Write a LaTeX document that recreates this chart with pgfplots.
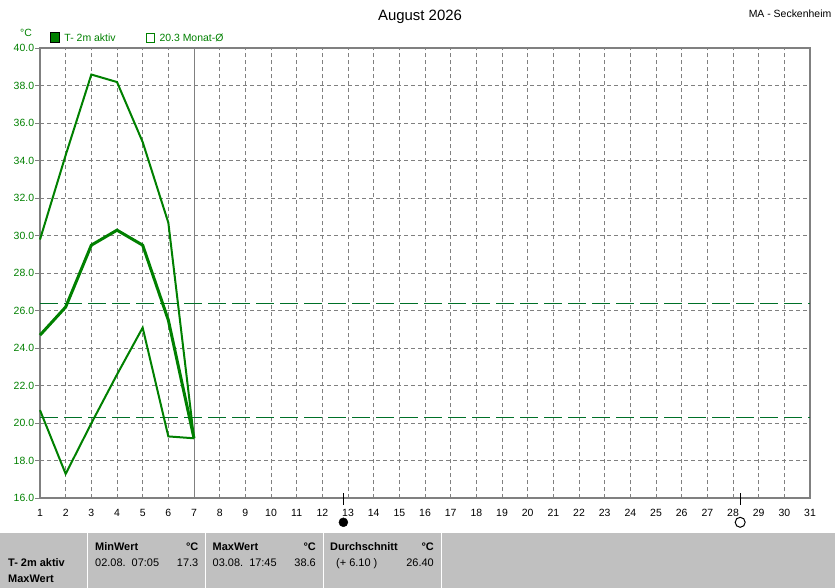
\documentclass[border=0pt]{standalone}
\usepackage{pgfplots}
\pgfplotsset{compat=1.18}
\usepackage{fontspec}
\setmainfont{Liberation Sans}
\definecolor{tgreen}{RGB}{0,128,0}
\definecolor{dgreen}{RGB}{0,112,40}
\definecolor{axgray}{RGB}{128,128,128}
\definecolor{gridgray}{RGB}{128,128,128}
\definecolor{panelgray}{RGB}{192,192,192}
\newcommand{\sm}{\fontsize{10.5}{12}\selectfont}
\newcommand{\pn}{\fontsize{11}{13}\selectfont}
\begin{document}
\begin{tikzpicture}[x=1bp,y=1bp]
\path[use as bounding box] (0,0) rectangle (835,588);
% bottom panel
\fill[panelgray] (0,0) rectangle (835,55);
\foreach \xx in {87.5,205.5,323.5,441} {\draw[white, line width=1bp] (\xx,0) -- (\xx,55);}
\node[anchor=base west, inner sep=0pt, font=\pn\bfseries] at (8,21) {T- 2m aktiv};
\node[anchor=base west, inner sep=0pt, font=\pn\bfseries] at (8,5) {MaxWert};
\node[anchor=base west, inner sep=0pt, font=\pn\bfseries] at (95,37) {MinWert};
\node[anchor=base east, inner sep=0pt, font=\pn\bfseries] at (198.5,37) {°C};
\node[anchor=base west, inner sep=0pt, font=\pn] at (95,21) {02.08.\ \ 07:05};
\node[anchor=base east, inner sep=0pt, font=\pn] at (198.5,21) {17.3};
\node[anchor=base west, inner sep=0pt, font=\pn\bfseries] at (212.5,37) {MaxWert};
\node[anchor=base east, inner sep=0pt, font=\pn\bfseries] at (316,37) {°C};
\node[anchor=base west, inner sep=0pt, font=\pn] at (212.5,21) {03.08.\ \ 17:45};
\node[anchor=base east, inner sep=0pt, font=\pn] at (316,21) {38.6};
\node[anchor=base west, inner sep=0pt, font=\pn\bfseries] at (330,37) {Durchschnitt};
\node[anchor=base east, inner sep=0pt, font=\pn\bfseries] at (434,37) {°C};
\node[anchor=base west, inner sep=0pt, font=\pn] at (336,21) {(+ 6.10 )};
\node[anchor=base east, inner sep=0pt, font=\pn] at (434,21) {26.40};
% titles
\node[anchor=base, inner sep=0pt, font=\fontsize{15}{18}\selectfont] at (420,567.5) {August 2026};
\node[anchor=base east, inner sep=0pt, font=\sm] at (831.5,570.7) {MA - Seckenheim};
\node[anchor=base west, inner sep=0pt, font=\sm, text=tgreen] at (20,551.3) {°C};
% legend
\filldraw[fill=tgreen, draw=black, line width=1bp] (50.5,545.5) rectangle (59.5,555.5);
\node[anchor=base west, inner sep=0pt, font=\sm, text=tgreen] at (64.3,546.5) {T- 2m aktiv};
\draw[tgreen, line width=1bp] (146,545.5) rectangle (154.5,554.5);
\node[anchor=base west, inner sep=0pt, font=\sm, text=tgreen] at (159.3,546.5) {20.3 Monat-Ø};
\begin{axis}[
  at={(40bp,89.7bp)}, anchor=south west,
  scale only axis, width=770bp, height=450bp,
  xmin=1, xmax=31, ymin=16, ymax=40,
  xtick={1,...,31}, ytick={16,18,...,40},
  grid=major,
  major grid style={color=gridgray, line width=1bp, dash pattern=on 4bp off 3bp},
  axis line style={color=axgray, line width=2bp},
  tick align=outside, major tick length=5bp, tick pos=left,
  tick style={color=axgray, line width=1bp},
  x tick style={draw=none},
  tick label style={font=\sm},
  xticklabel style={anchor=base, yshift=-13.2bp},
  yticklabel style={anchor=east, inner xsep=0.7bp, text=tgreen,
    /pgf/number format/fixed, /pgf/number format/fixed zerofill, /pgf/number format/precision=1},
  /pgf/number format/assume math mode=true,
  clip=false,
]
\addplot[axgray, line width=1bp] coordinates {(7,16) (7,40)};
\addplot[dgreen, line width=1.2bp, dash pattern=on 18bp off 6bp] coordinates {(1,26.4) (31,26.4)};
\addplot[dgreen, line width=1.2bp, dash pattern=on 18bp off 6bp] coordinates {(1,20.3) (31,20.3)};
\addplot[tgreen, line width=2bp] coordinates {(1,29.8) (2,34.3) (3,38.6) (4,38.2) (5,35.0) (6,30.7) (7,19.2)};
\addplot[tgreen, line width=2bp] coordinates {(1,20.7) (2,17.3) (3,20.0) (4,22.6) (5,25.1) (6,19.3) (7,19.2)};
\addplot[tgreen, line width=3bp] coordinates {(1,24.7) (2,26.2) (3,29.5) (4,30.3) (5,29.5) (6,25.5) (7,19.2)};
% moon phase markers
\addplot[black, line width=1bp] coordinates {(12.82,16.28) (12.82,15.64)};
\addplot[black, line width=1bp] coordinates {(28.28,16.28) (28.28,15.64)};
\addplot[only marks, mark=*, mark size=4.5bp, black] coordinates {(12.82,14.72)};
\addplot[only marks, mark=o, mark size=5bp, black, line width=1bp, mark options={fill=white}] coordinates {(28.28,14.72)};
\end{axis}
\end{tikzpicture}
\end{document}
